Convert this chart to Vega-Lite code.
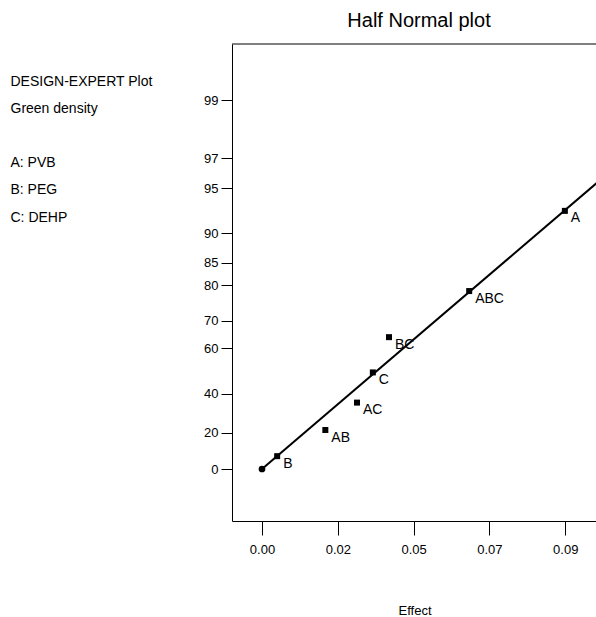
{
  "$schema": "https://vega.github.io/schema/vega-lite/v6.json",
  "width": 364,
  "height": 477,
  "autosize": {"type": "none"},
  "padding": {"left": 232, "top": 44, "right": 0, "bottom": 96},
  "background": "white",
  "config": {
    "font": "Liberation Sans",
    "view": {"stroke": null},
    "axis": {
      "grid": false,
      "domainColor": "black",
      "domainWidth": 1,
      "tickColor": "black",
      "tickWidth": 1,
      "labelColor": "black",
      "titleColor": "black",
      "labelFont": "Liberation Sans",
      "titleFont": "Liberation Sans",
      "titleFontWeight": "normal"
    }
  },
  "title": {
    "text": "Half Normal plot",
    "fontSize": 20,
    "fontWeight": "normal",
    "font": "Liberation Sans",
    "color": "black",
    "anchor": "middle",
    "frame": "group",
    "baseline": "alphabetic",
    "offset": 18,
    "dx": 5,
    "dy": 21
  },
  "datasets": {
    "effects": [
      {"term": "A", "effect": 0.0899, "z": 1.8027},
      {"term": "ABC", "effect": 0.0615, "z": 1.2426},
      {"term": "BC", "effect": 0.0377, "z": 0.9208},
      {"term": "C", "effect": 0.0329, "z": 0.6745},
      {"term": "AC", "effect": 0.0282, "z": 0.4637},
      {"term": "AB", "effect": 0.0188, "z": 0.2723},
      {"term": "B", "effect": 0.0045, "z": 0.0896}
    ],
    "fit": [
      {"effect": 0, "z": 0},
      {"effect": 0.1, "z": 2.01}
    ]
  },
  "encoding": {
    "x": {
      "field": "effect",
      "type": "quantitative",
      "scale": {"domain": [-0.008905, 0.099139], "nice": false, "zero": false},
      "axis": {
        "orient": "bottom",
        "values": [0, 0.0225, 0.045, 0.0675, 0.09],
        "labelExpr": "format(datum.value + 0.0001, '.2f')",
        "tickSize": 14,
        "labelPadding": 8,
        "labelFontSize": 13,
        "title": "Effect",
        "titleFontSize": 13,
        "titleX": 182.5,
        "titleY": 93.5,
        "titleAlign": "center",
        "titleBaseline": "alphabetic"
      }
    },
    "y": {
      "field": "z",
      "type": "quantitative",
      "scale": {"domain": [-0.3631, 2.968], "nice": false, "zero": false},
      "axis": {
        "values": [0, 0.253347, 0.524401, 0.841621, 1.036433, 1.281552, 1.439531, 1.644854, 1.959964, 2.17009, 2.575829],
        "labelExpr": "format((2 * cumulativeNormal(datum.value) - 1) * 100, '.0f')",
        "tickSize": 11,
        "labelPadding": 3,
        "labelFontSize": 13,
        "title": ["DESIGN-EXPERT Plot", "Green density", "\u200b", "A: PVB", "B: PEG", "C: DEHP"],
        "titleFontSize": 14,
        "titleAngle": 0,
        "titleAlign": "left",
        "titleBaseline": "top",
        "titleX": -222,
        "titleY": 30,
        "titleLineHeight": 27.2
      }
    }
  },
  "layer": [
    {
      "data": {"name": "fit"},
      "mark": {"type": "line", "color": "black", "strokeWidth": 2, "clip": true}
    },
    {
      "data": {"name": "fit"},
      "transform": [{"filter": "datum.effect == 0"}],
      "mark": {"type": "point", "shape": "circle", "filled": true, "size": 45, "color": "black", "opacity": 1}
    },
    {
      "data": {"name": "effects"},
      "mark": {"type": "point", "shape": "square", "filled": true, "size": 36, "color": "black", "opacity": 1}
    },
    {
      "data": {"name": "effects"},
      "mark": {"type": "text", "align": "left", "baseline": "alphabetic", "dx": 6, "dy": 11.5, "fontSize": 14, "font": "Liberation Sans", "color": "black"},
      "encoding": {
        "text": {"field": "term"}
      }
    },
    {
      "data": {"name": "fit"},
      "transform": [{"filter": "datum.effect == 0"}],
      "mark": {"type": "rule", "color": "black", "strokeWidth": 1},
      "encoding": {
        "x": null,
        "y": {"datum": 2.968, "type": "quantitative"}
      }
    }
  ]
}
